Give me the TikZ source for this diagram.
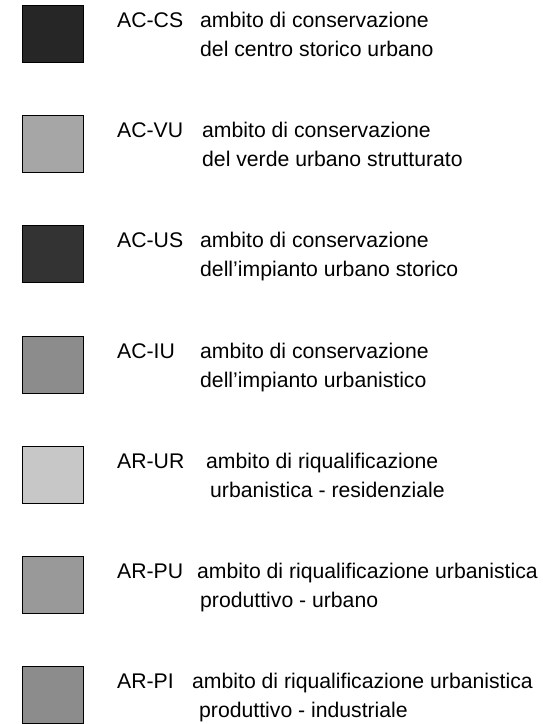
\documentclass[tikz,border=0pt]{standalone}
\usepackage{fontspec}
\setmainfont{Liberation Sans}
\usepackage{xcolor}
\usetikzlibrary{positioning}

\begin{document}
\begin{tikzpicture}
		[x=1pt, y=-1pt,
		swatch/.style={rectangle, draw, line width=1.3pt, minimum width=61pt, minimum height=57pt, inner sep=0pt, anchor=north west},
		code/.style={anchor=base west, inner sep=0pt, font=\fontsize{21.2}{29}\selectfont},
		legend/.style={anchor=base west, inner sep=0pt, align=left, font=\fontsize{21.2}{29}\selectfont}
		]
		
		\useasboundingbox (0,0) rectangle (542,724);
		
		% Swatches
		\node[swatch, fill=black!85] (cs) at (22,5) {};
		\node[swatch, fill=black!35] (vu) at (22,115) {};
		\node[swatch, fill=black!80] (us) at (22,225) {};
		\node[swatch, fill=black!45] (iu) at (22,336) {};
		\node[swatch, fill=black!22] (ur) at (22,446) {};
		\node[swatch, fill=black!40] (pu) at (22,556) {};
		\node[swatch, fill=black!45] (pi) at (22,666) {};
		
		% Codes
		\node[code] (cs-code) at (117,27) {AC-CS};
		\node[code] (vu-code) at (117,137) {AC-VU};
		\node[code] (us-code) at (117,247) {AC-US};
		\node[code] (iu-code) at (117,358) {AC-IU};
		\node[code] (ur-code) at (117,468) {AR-UR};
		\node[code] (pu-code) at (117,578) {AR-PU};
		\node[code] (pi-code) at (117,688) {AR-PI};
		
		% Descriptions (base = second line)
		\node[legend] (cs-text) at (200,56) {ambito di conservazione\\del centro storico urbano};
		\node[legend] (vu-text) at (202,166) {ambito di conservazione\\del verde urbano strutturato};
		\node[legend] (us-text) at (200,276) {ambito di conservazione\\dell'impianto urbano storico};
		\node[legend] (iu-text) at (200,387) {ambito di conservazione\\dell'impianto urbanistico};
		\node[legend] (ur-text) at (206,497) {ambito di riqualificazione\\\hspace*{4pt}urbanistica - residenziale};
		\node[legend] (pu-text) at (197,607) {ambito di riqualificazione urbanistica\\\hspace*{3pt}produttivo - urbano};
		\node[legend] (pi-text) at (192,717) {ambito di riqualificazione urbanistica\\\hspace*{7pt}produttivo - industriale};
\end{tikzpicture}
\end{document}
